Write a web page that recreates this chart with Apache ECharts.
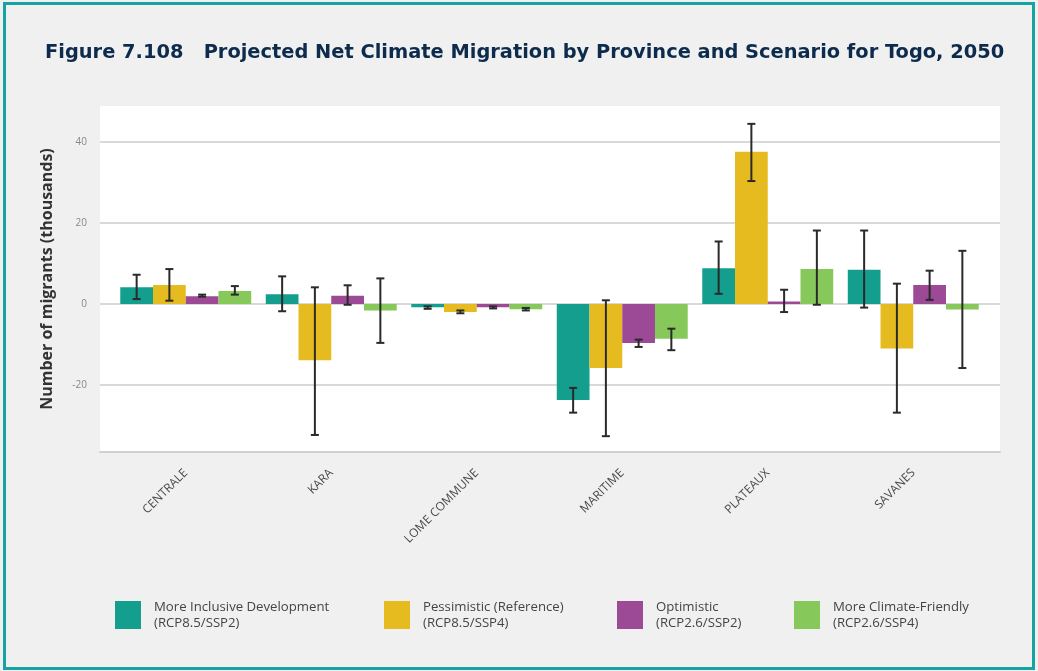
<!DOCTYPE html>
<html>
<head>
<meta charset="utf-8">
<script src="https://cdn.jsdelivr.net/npm/echarts@6/dist/echarts.min.js"></script>
<style>html,body{margin:0;padding:0;background:#f0f0f0;}#c{width:1038px;height:671px;}</style>
</head>
<body>
<div id="c"></div>
<script>
const categories = ['CENTRALE', 'KARA', 'LOME COMMUNE', 'MARITIME', 'PLATEAUX', 'SAVANES'];
const seriesNames = ['More Inclusive Development', 'Pessimistic (Reference)', 'Optimistic', 'More Climate-Friendly'];
const seriesSub = ['(RCP8.5/SSP2)', '(RCP8.5/SSP4)', '(RCP2.6/SSP2)', '(RCP2.6/SSP4)'];
const colors = ['#139e8e', '#e6bb1f', '#9c4a96', '#86c95a'];

const inclusive = [4.1, 2.4, -0.8, -23.7, 8.8, 8.4];
const pessimistic = [4.7, -13.9, -2.0, -15.8, 37.5, -11.0];
const optimistic = [1.9, 2.0, -0.8, -9.6, 0.6, 4.7];
const climateFriendly = [3.2, -1.6, -1.3, -8.6, 8.6, -1.4];

const inclusiveLow = [1.2, -1.8, -1.2, -26.8, 2.5, -0.9];
const inclusiveHigh = [7.2, 6.8, -0.6, -20.7, 15.4, 18.1];
const pessimisticLow = [0.8, -32.3, -2.3, -32.6, 30.3, -26.8];
const pessimisticHigh = [8.6, 4.1, -1.6, 0.9, 44.4, 5.0];
const optimisticLow = [1.8, -0.2, -1.1, -10.6, -2.0, 1.0];
const optimisticHigh = [2.3, 4.6, -0.6, -8.8, 3.5, 8.2];
const climateLow = [2.3, -9.6, -1.6, -11.4, -0.2, -15.8];
const climateHigh = [4.4, 6.3, -1.0, -6.1, 18.1, 13.1];

const yTicks = [-20, 0, 20, 40];
const yMin = -36.5, yMax = 48.8;

const values = [inclusive, pessimistic, optimistic, climateFriendly];
const lows = [inclusiveLow, pessimisticLow, optimisticLow, climateLow];
const highs = [inclusiveHigh, pessimisticHigh, optimisticHigh, climateHigh];

const chart = echarts.init(document.getElementById('c'), null, {renderer: 'canvas'});

const CAT_GAP = 0.1;
const barSeries = values.map((v, i) => ({
  name: seriesNames[i],
  type: 'bar',
  xAxisIndex: 1, yAxisIndex: 1,
  data: v,
  barGap: '0%',
  barCategoryGap: (CAT_GAP * 100) + '%',
  itemStyle: {color: colors[i]},
  emphasis: {disabled: true},
  z: 2
}));

const errData = [];
for (let s = 0; s < 4; s++) {
  for (let c = 0; c < categories.length; c++) {
    errData.push([c, lows[s][c], highs[s][c], s]);
  }
}

const errSeries = {
  type: 'custom',
  xAxisIndex: 1, yAxisIndex: 1,
  data: errData,
  z: 5,
  silent: true,
  renderItem: function (params, api) {
    const cat = api.value(0), lo = api.value(1), hi = api.value(2), s = api.value(3);
    const band = api.size([1, 0])[0];
    const bw = band * (1 - CAT_GAP) / 4;
    const pLo = api.coord([cat, lo]);
    const pHi = api.coord([cat, hi]);
    const x = pLo[0] + (s - 1.5) * bw;
    const cap = 4;
    const st = {stroke: '#2a2a2a', lineWidth: 2};
    return {
      type: 'group',
      children: [
        {type: 'line', shape: {x1: x, y1: pLo[1], x2: x, y2: pHi[1]}, style: st},
        {type: 'line', shape: {x1: x - cap, y1: pLo[1], x2: x + cap, y2: pLo[1]}, style: st},
        {type: 'line', shape: {x1: x - cap, y1: pHi[1], x2: x + cap, y2: pHi[1]}, style: st}
      ]
    };
  }
};

const legendLefts = [110, 379, 612, 789];
const legends = seriesNames.map((n, i) => ({
  data: [n],
  left: legendLefts[i],
  top: 594,
  orient: 'horizontal',
  icon: 'rect',
  itemWidth: 26,
  itemHeight: 28,
  selectedMode: false,
  formatter: function (name) { return name + '\n' + seriesSub[seriesNames.indexOf(name)]; },
  textStyle: {fontFamily: 'Open Sans', fontSize: 13.2, lineHeight: 16, color: '#444', padding: [0, 0, 0, 8]}
}));

const option = {
  backgroundColor: '#f0f0f0',
  animation: false,
  color: colors,
  title: {
    text: 'Figure 7.108   Projected Net Climate Migration by Province and Scenario for Togo, 2050',
    left: 40, top: 38,
    textStyle: {fontFamily: 'DejaVu Sans', fontWeight: 'bold', fontSize: 19.4, color: '#0d2b4c'}
  },
  legend: legends,
  grid: [
    {left: 100, right: 38, top: 106, bottom: 219, show: true, backgroundColor: '#ffffff', borderWidth: 0},
    {left: 113, right: 52, top: 106, bottom: 219}
  ],
  xAxis: [
    {type: 'value', gridIndex: 0, min: 0, max: 1, axisLine: {show: true, onZero: false, lineStyle: {color: '#d0d0d0', width: 2}},
     axisTick: {show: false}, axisLabel: {show: false}, splitLine: {show: false}},
    {type: 'category', gridIndex: 1, data: categories,
     axisLine: {show: false}, axisTick: {show: false},
     axisLabel: {rotate: 45, margin: 19, fontFamily: 'Open Sans', fontSize: 12, color: '#4a4a4a', interval: 0}}
  ],
  yAxis: [
    {type: 'value', gridIndex: 0, min: yMin, max: yMax,
     name: 'Number of migrants (thousands)', nameLocation: 'middle', nameGap: 45,
     nameTextStyle: {fontFamily: 'Open Sans', fontWeight: 'bold', fontSize: 16, color: '#333'},
     axisLine: {show: false}, axisTick: {show: false, customValues: yTicks},
     axisLabel: {customValues: yTicks, margin: 13, fontFamily: 'Open Sans', fontSize: 10, color: '#888'},
     splitLine: {show: true, lineStyle: {color: '#d9d9d9', width: 2}}},
    {type: 'value', gridIndex: 1, min: yMin, max: yMax, show: false, splitLine: {show: false}}
  ],
  graphic: [
    {type: 'rect', shape: {x: 4.5, y: 3.5, width: 1029, height: 665}, style: {fill: 'none', stroke: '#16a3a3', lineWidth: 3}, z: 100, silent: true}
  ],
  series: barSeries.concat([errSeries])
};
chart.setOption(option);
</script>
</body>
</html>
